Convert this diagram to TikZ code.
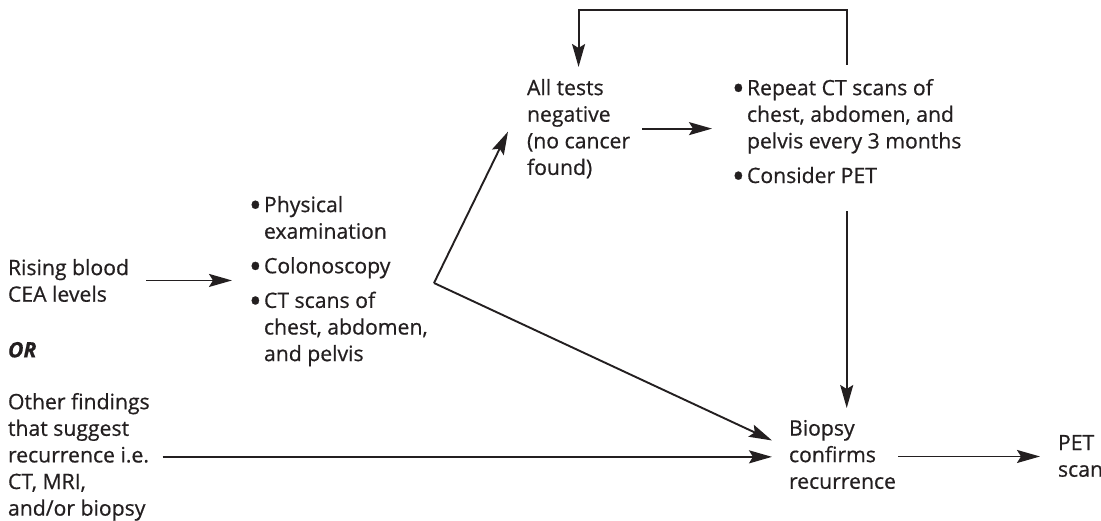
\documentclass[tikz,border=0pt]{standalone}
\usepackage{fontspec}
\setmainfont{Open Sans}[FakeBold=0.6]
\usetikzlibrary{arrows.meta,calc}
\definecolor{ink}{RGB}{35,31,32}
\newcommand{\bul}{\makebox[15pt][l]{\raisebox{-5pt}{\scalebox{1.6}{\textbullet}}}}
\newcommand{\ind}{\hspace*{15pt}}
\begin{document}
\begin{tikzpicture}[x=1pt,y=-1pt,
  txt/.style={anchor=north west,inner sep=0pt,outer sep=0pt,align=left,text=ink,
    font=\fontsize{21.2}{26.6}\selectfont},
  arr/.style={draw=ink,line width=1.9pt,-{Stealth[length=23pt,width=13pt,inset=4pt]}}]
\useasboundingbox (0,0) rectangle (1101,521);

% text blocks
\node[txt] (rise) at (8,259) {Rising blood\\CEA levels};
\node[txt] (or) at (8,342) {\textbf{\textit{OR}}};
\node[txt] (other) at (8,393) {Other findings\\that suggest\\recurrence i.e.\\CT, MRI,\\and/or biopsy};
\node[txt] (tests) at (249,196) {\bul Physical\\\ind examination\\[8pt]\bul Colonoscopy\\[8pt]\bul CT scans of\\\ind chest, abdomen,\\\ind and pelvis};
\node[txt] (neg) at (527,79) {All tests\\negative\\(no cancer\\found)};
\node[txt] (repeat) at (732,79) {\bul Repeat CT scans of\\\ind chest, abdomen, and\\\ind pelvis every 3 months\\[8pt]\bul Consider PET};
\node[txt] (biopsy) at (789,420) {Biopsy\\confirms\\recurrence};
\node[txt] (pet) at (1058,435) {PET\\scan};

% branching point after the first tests
\coordinate (fork) at (434,283);
\coordinate (loop) at (0,10);

% connectors
\draw[arr] ($(rise.east)+(17,0)$) -- ($(rise.east -| tests.west)+(-17,0)$);
\draw[arr] (fork) -- ($(neg.west)+(-19,3)$);
\draw[arr] (fork) -- ($(biopsy.west)+(-17,-14)$);
\draw[arr] ($(other.east)+(13,0)$) -- ($(other.east -| biopsy.west)+(-17,0)$);
\draw[arr] ($(neg.east)+(12,0)$) -- ($(neg.east -| repeat.west)+(-20,0)$);
\draw[arr] ($(repeat.north)+(0,-14)$) -- (repeat.north |- loop) -| ($(neg.north)+(0,-12)$);
\draw[arr] ($(repeat.south)+(0,23)$) -- ($(repeat.south |- biopsy.north)+(0,-12)$);
\draw[arr] ($(biopsy.east)+(2,2)$) -- ($(biopsy.east -| pet.west)+(-18,2)$);
\end{tikzpicture}
\end{document}
